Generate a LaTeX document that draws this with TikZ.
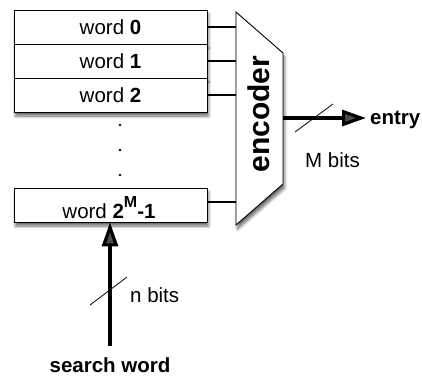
\documentclass[tikz,border=0pt]{standalone}
\usepackage{fontspec}
\setmainfont{Liberation Sans}
\usetikzlibrary{arrows.meta,shadows.blur}
\begin{document}
\begin{tikzpicture}[x=1pt,y=-1pt,
  wordbox/.style={draw=black,line width=0.9pt,fill=white,minimum width=193pt,minimum height=34pt,inner sep=0pt,
    font=\fontsize{20}{24}\selectfont},
  shad/.style={blur shadow={shadow xshift=1.5pt,shadow yshift=-4pt,shadow blur steps=6,shadow blur radius=3pt,shadow opacity=60}},
  wire/.style={line width=1.2pt},
  bus/.style={line width=3.2pt,-{Triangle[length=24pt,width=16pt]}},
  slash/.style={line width=0.8pt},
  lbl/.style={font=\fontsize{20.5}{24}\selectfont,inner sep=0pt},
  blbl/.style={font=\fontsize{20.5}{24}\selectfont\bfseries,inner sep=0pt}]
\useasboundingbox (0,0) rectangle (422,376);
% encoder
\coordinate (encL) at (236,0);
\coordinate (encR) at (283,0);
\draw[line width=0.9pt,fill=white,shad] (236,12) -- (283,53) -- (283,184) -- (236,225) -- cycle;
\node[font=\fontsize{30}{34}\selectfont\bfseries,rotate=90,inner sep=0pt] (enc) at (259,114) {encoder};
% word boxes
\node[wordbox,shad] (w0) at (110.5,27) {};
\node[wordbox,shad] (w1) at (110.5,61) {};
\node[wordbox,shad] (w2) at (110.5,95) {};
\draw[line width=0.9pt] (w0.south west) -- (w0.south east) (w1.south west) -- (w1.south east);
\node[lbl] (t0) at (110.5,27) {word \textbf{0}};
\node[lbl] (t1) at (110.5,61) {word \textbf{1}};
\node[lbl] (t2) at (110.5,95) {word \textbf{2}};
\node[wordbox,shad] (w3) at (110.5,205) {};
\node[lbl,anchor=base] (t3) at (109,218) {word \textbf{2\raisebox{11pt}{\fontsize{16}{16}\selectfont M}-1}};
% dots
\fill (120,125) circle (1.4pt) (120,150) circle (1.4pt) (120,175) circle (1.4pt);
% wires
\draw[wire] (w0.east) -- (w0.east -| encL);
\draw[wire] (w1.east) -- (w1.east -| encL);
\draw[wire] (w2.east) -- (w2.east -| encL);
\draw[wire] ([yshift=3pt]w3.east) -- ([yshift=3pt]w3.east -| encL);
% output
\coordinate (outS) at (283,118);
\coordinate (outE) at (366,118);
\draw[bus] (outS) -- (outE);
\draw[slash] (295,132) -- (333,104);
\node[blbl,anchor=base west] (entry) at (370,124) {entry};
\node[lbl,anchor=base west] (mbits) at (305,167) {M bits};
% input
\coordinate (inS) at (110,346);
\draw[bus] (inS) -- (w3.south -| inS);
\draw[slash] (90,305) -- (127,277);
\node[lbl,anchor=base west] (nbits) at (130,302) {n bits};
\node[blbl,anchor=base] (sw) at (110,372) {search word};
\end{tikzpicture}
\end{document}
